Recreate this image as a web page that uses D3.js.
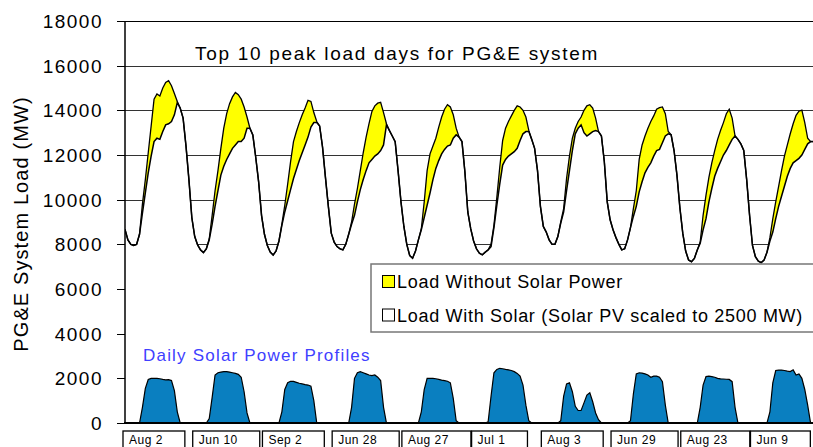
<!DOCTYPE html>
<html>
<head>
<meta charset="utf-8">
<script src="https://cdn.jsdelivr.net/npm/d3@7"></script>
<style>
  body { margin: 0; background: #fff; }
  svg { display: block; font-family: Arial, "Liberation Sans", sans-serif; }
</style>
</head>
<body>
<div id="chart"></div>
<script>
// the ten peak days
var days = ["Aug 2", "Jun 10", "Sep 2", "Jun 28", "Aug 27", "Jul 1", "Aug 3", "Jun 29", "Aug 23", "Jun 9"];

// hourly system load with solar (MW), one row per day
var loadWithSolar = [
  [8670,8200,8000,7950,8000,8450,9400,10300,11200,11950,12600,12750,12700,13050,13350,13400,13500,13800,14350,14100,13650,12400,10900,9200],
  [8350,7970,7750,7630,7800,8200,8900,9700,10400,11100,11500,11800,12050,12300,12450,12600,12600,12750,13200,13200,12900,11900,10800,9300],
  [8450,7950,7650,7520,7700,8150,8850,9450,9950,10450,10950,11350,11750,12100,12450,12800,13250,13450,13450,13300,12350,11000,9700,8500],
  [8100,7900,7800,7750,8000,8450,8900,9300,9900,10450,10900,11300,11650,11800,11950,12050,12200,12450,13350,13100,12850,12600,11300,9900],
  [8800,8000,7500,7380,7700,8200,8650,9200,9750,10300,10900,11400,11750,12050,12250,12400,12450,12750,12900,12800,12600,11250,9450,8700],
  [8150,7800,7600,7530,7650,7750,7900,8750,9750,10700,11550,11800,11950,12050,12150,12300,12650,12950,13050,13050,12700,12300,11300,9700],
  [8800,8550,8200,8000,8000,8350,8950,9450,10400,11300,12200,12950,13200,13350,13000,12850,12950,13050,13100,13050,12850,11700,9900,9100],
  [8650,8300,8000,7750,7800,8200,8750,9250,9700,10350,10800,11200,11450,11650,11950,12200,12250,12550,12850,12950,12900,12200,11100,9650],
  [8500,7700,7300,7220,7370,7750,8050,8650,9150,9900,10500,11050,11400,11700,12000,12200,12450,12700,12850,12700,12500,12200,10900,9300],
  [7950,7450,7250,7180,7300,7650,8150,8550,9150,9700,10150,10600,11050,11400,11650,11750,11850,12000,12250,12500,12600,12600]
];

// hourly system load without solar (MW)
var loadWithoutSolar = [
  [8670,8200,8000,7950,8000,8450,9800,10900,12100,13300,14500,14730,14640,15000,15250,15330,15100,14750,14400,14100,13650,12400,10900,9200],
  [8350,7970,7750,7630,7800,8250,9300,10400,11300,12300,13200,13850,14300,14600,14800,14700,14500,14150,13700,13200,12900,11900,10800,9300],
  [8450,7950,7650,7520,7700,8150,8900,9750,10700,11700,12600,13050,13450,13800,14100,14450,14400,13900,13500,13300,12350,11000,9700,8500],
  [8100,7900,7800,7750,8000,8450,9000,9800,10500,11300,12100,12800,13400,13950,14200,14320,14360,13900,13400,13100,12850,12600,11300,9900],
  [8800,8000,7500,7380,7700,8200,8700,9900,11300,12050,12400,12750,13250,13700,14050,14250,14150,13800,13200,12800,12600,11250,9450,8700],
  [8150,7800,7600,7530,7650,7750,8000,8850,10100,11450,12650,13200,13500,13750,14000,14200,14150,14000,13700,13100,12700,12300,11300,9700],
  [8800,8550,8200,8000,8000,8350,9000,9600,10950,11950,12750,13200,13500,13700,14000,14200,14250,14100,13650,13050,12850,11700,9900,9100],
  [8650,8300,8000,7750,7800,8200,8750,9600,10400,11800,12450,12850,13200,13500,13750,14050,14120,14150,13850,13050,12900,12200,11100,9650],
  [8500,7700,7300,7220,7370,7750,8100,9300,10200,11000,11650,12200,12700,13100,13450,13850,14050,13650,12850,12700,12500,12200,10900,9300],
  [7950,7450,7250,7180,7300,7650,8300,9150,9900,10600,11300,11950,12450,12950,13400,13780,13960,14010,13450,12750,12600,12600]
];

// hourly solar PV output (MW)
var solarPower = [
  [0,0,0,0,0,0,700,1550,1950,2000,2000,2000,1980,1950,1930,1940,1900,1450,500,0,0,0,0,0],
  [0,0,0,0,0,200,1150,2150,2250,2280,2300,2300,2280,2250,2220,2180,2050,1400,450,0,0,0,0,0],
  [0,0,0,0,0,0,500,1500,1800,1870,1860,1820,1780,1750,1720,1700,1650,1000,0,0,0,0,0,0],
  [0,0,0,0,0,0,700,2000,2250,2300,2250,2200,2150,2120,2150,2050,1900,700,0,0,0,0,0,0],
  [0,0,0,0,0,0,500,1500,2000,2000,2000,1980,1950,1920,1900,1870,1800,1100,100,0,0,0,0,0],
  [0,0,0,0,0,50,1200,2250,2400,2450,2430,2400,2380,2350,2300,2220,2100,1700,800,100,0,0,0,0],
  [0,0,0,0,0,0,100,1200,1750,1800,1400,750,560,560,900,1250,1350,950,450,150,0,0,0,0],
  [0,0,0,0,0,0,100,1300,2200,2250,2230,2200,2150,2050,2100,2100,2050,1850,800,0,0,0,0,0],
  [0,0,0,0,0,0,700,1700,2080,2100,2080,2050,2000,1980,1970,1960,1950,1850,700,0,0,0,0,0],
  [0,0,0,0,0,0,500,1800,2350,2370,2370,2350,2320,2300,2380,2150,2200,2000,1500,800,0,0]
];

var yTicks = [0, 2000, 4000, 6000, 8000, 10000, 12000, 14000, 16000, 18000];
var legendNames = ["Load Without Solar Power", "Load With Solar (Solar PV scaled to 2500 MW)"];

(function() {
    var margin = {top: 21, left: 125, bottom: 24},
    width = 813,
    height = 447,
    hourW = 2.905;

    var svg = d3.select('#chart')
        .append('svg')
        .attr('width', width)
        .attr('height', height);

    var x = d3.scaleLinear()
        .domain([0, 240])
        .range([margin.left, margin.left + 240 * hourW]);

    var y = d3.scaleLinear()
        .domain([0, 18000])
        .range([height - margin.bottom, margin.top]);

    // flatten the days into one hourly series
    var pts = [];
    days.forEach(function(d, i) {
        loadWithSolar[i].forEach(function(v, h) {
            pts.push({k: i * 24 + h, w: v, wo: loadWithoutSolar[i][h], s: solarPower[i][h]});
        });
    });

    svg.append('clipPath').attr('id', 'plot')
        .append('rect')
        .attr('x', margin.left).attr('y', margin.top)
        .attr('width', width - margin.left).attr('height', y(0) - margin.top);

    // grid lines (hidden below the load curve by the white fill)
    svg.selectAll('.grid')
        .data(yTicks.slice(1))
        .enter().append('line')
        .attr('class', 'grid')
        .attr('x1', margin.left).attr('x2', width)
        .attr('y1', function(d) { return Math.round(y(d)) + 0.5 })
        .attr('y2', function(d) { return Math.round(y(d)) + 0.5 })
        .attr('stroke', function(d) { return d == 18000 ? '#000' : '#333' })
        .attr('stroke-width', 1);

    var g = svg.append('g').attr('clip-path', 'url(#plot)');

    var areaWo = d3.area().x(function(d) { return x(d.k) }).y0(y(0)).y1(function(d) { return y(d.wo) });
    var areaW = d3.area().x(function(d) { return x(d.k) }).y0(y(0)).y1(function(d) { return y(d.w) });
    var lineWo = d3.line().x(function(d) { return x(d.k) }).y(function(d) { return y(d.wo) });
    var lineW = d3.line().x(function(d) { return x(d.k) }).y(function(d) { return y(d.w) });
    var areaS = d3.area().x(function(d) { return x(d.k) }).y0(y(0)).y1(function(d) { return y(d.s) });
    var lineS = d3.line().x(function(d) { return x(d.k) }).y(function(d) { return y(d.s) });

    g.append('path').attr('d', areaWo(pts)).attr('fill', '#ffff00');
    g.append('path').attr('d', areaW(pts)).attr('fill', '#fff');
    g.append('path').attr('d', lineWo(pts)).attr('fill', 'none').attr('stroke', '#000').attr('stroke-width', 1.3);
    g.append('path').attr('d', lineW(pts)).attr('fill', 'none').attr('stroke', '#000').attr('stroke-width', 1.5);
    g.append('path').attr('d', areaS(pts)).attr('fill', '#0a7fc0');
    g.append('path').attr('d', lineS(pts)).attr('fill', 'none').attr('stroke', '#000').attr('stroke-width', 1.2);

    // axes
    svg.append('line')
        .attr('x1', margin.left).attr('x2', margin.left)
        .attr('y1', margin.top).attr('y2', y(0))
        .attr('stroke', '#000').attr('stroke-width', 1.5);
    svg.append('line')
        .attr('x1', margin.left - 1).attr('x2', width)
        .attr('y1', y(0)).attr('y2', y(0))
        .attr('stroke', '#000').attr('stroke-width', 2.2);

    svg.selectAll('.tick')
        .data(yTicks)
        .enter().append('line')
        .attr('x1', margin.left - 8).attr('x2', margin.left)
        .attr('y1', function(d) { return Math.round(y(d)) + 0.5 })
        .attr('y2', function(d) { return Math.round(y(d)) + 0.5 })
        .attr('stroke', '#000');

    svg.selectAll('.ylab')
        .data(yTicks)
        .enter().append('text')
        .attr('x', 103)
        .attr('y', function(d) { return y(d) })
        .attr('dy', '0.36em')
        .attr('text-anchor', 'end')
        .style('font-size', '19px')
        .style('letter-spacing', '1.5px')
        .text(function(d) { return d });

    svg.append('text')
        .attr('transform', 'translate(28,224) rotate(-90)')
        .attr('text-anchor', 'middle')
        .style('font-size', '20px')
        .style('letter-spacing', '1.1px')
        .text('PG&E System Load (MW)');

    svg.append('text')
        .attr('x', 195).attr('y', 60)
        .style('font-size', '19px')
        .style('letter-spacing', '1.7px')
        .text('Top 10 peak load days for PG&E system');

    svg.append('text')
        .attr('x', 143).attr('y', 361)
        .style('font-size', '17px')
        .style('letter-spacing', '1.2px')
        .attr('fill', '#4040ff')
        .text('Daily Solar Power Profiles');

    // legend
    svg.append('rect')
        .attr('x', 371).attr('y', 264)
        .attr('width', 470).attr('height', 68)
        .attr('fill', '#fff').attr('stroke', '#777').attr('stroke-width', 1.5);
    var legendFill = ['#ffff00', '#fff'];
    legendNames.forEach(function(name, i) {
        svg.append('rect')
            .attr('x', 382.5).attr('y', 275.5 + i * 33.5)
            .attr('width', 12).attr('height', 12)
            .attr('fill', legendFill[i]).attr('stroke', '#000');
        svg.append('text')
            .attr('x', 397).attr('y', 288 + i * 33.5)
            .style('font-size', '18px')
            .style('letter-spacing', '0.7px')
            .text(name);
    });

    // day label boxes
    days.forEach(function(d, i) {
        var tx = x(i * 24) + 4;
        var t = svg.append('text')
            .attr('x', tx).attr('y', 444)
            .style('font-size', '12px')
            .style('letter-spacing', '0.5px')
            .text(d);
        var tw = t.node().getComputedTextLength();
        svg.insert('rect', 'text')
            .attr('x', tx - 6).attr('y', 431)
            .attr('width', tw + 28).attr('height', 30)
            .attr('fill', 'none').attr('stroke', '#000').attr('stroke-width', 1.3);
    });
})();
</script>
</body>
</html>
